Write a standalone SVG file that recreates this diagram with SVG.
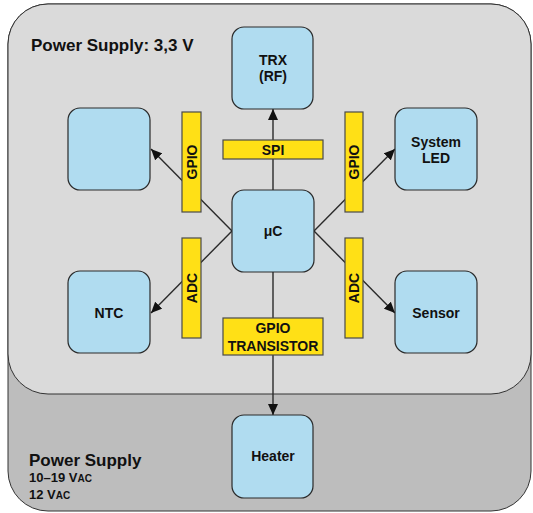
<svg xmlns="http://www.w3.org/2000/svg" width="533" height="513" viewBox="0 0 533 513">
<style>
.node{fill:#b0dcf0;stroke:#2a2a2a;stroke-width:1.2}
.bar{fill:#ffe016;stroke:#4a4a4a;stroke-width:1.2}
.t{font-family:"Liberation Sans",Arial,sans-serif;font-weight:bold;fill:#111;text-anchor:middle}
.n{font-size:14px}
.lbl{font-size:14px}
.title{font-family:"Liberation Sans",Arial,sans-serif;font-weight:bold;fill:#111;font-size:17px}
.sub{font-family:"Liberation Sans",Arial,sans-serif;font-weight:bold;fill:#111;font-size:13px}
.conn{stroke:#2a2a2a;stroke-width:1.4;fill:none}
</style>
<defs>
<marker id="ah" markerUnits="userSpaceOnUse" markerWidth="12" markerHeight="10" refX="11" refY="5" orient="auto">
<path d="M0,0 L11,5 L0,10 z" fill="#111"/>
</marker>
</defs>
<g id="background">
<rect x="8" y="4" width="523" height="507" rx="40" ry="40" fill="#bdbdbd" stroke="#333" stroke-width="1"/>
<rect x="8" y="4" width="523" height="390" rx="40" ry="40" fill="#dadada" stroke="#333" stroke-width="1"/>
<text class="title" x="31" y="51">Power Supply: 3,3 V</text>
<text class="title" x="29" y="466">Power Supply</text>
<text class="sub" x="29" y="482">10–19 V<tspan font-size="10">AC</tspan></text>
<text class="sub" x="29" y="499">12 V<tspan font-size="10">AC</tspan></text>
</g>
<g id="connectors">
<line class="conn" x1="273" y1="190" x2="273" y2="109" marker-end="url(#ah)"/>
<line class="conn" x1="232" y1="231" x2="151" y2="149" marker-end="url(#ah)"/>
<line class="conn" x1="232" y1="231" x2="151" y2="313" marker-end="url(#ah)"/>
<line class="conn" x1="314" y1="231" x2="395" y2="149" marker-end="url(#ah)"/>
<line class="conn" x1="314" y1="231" x2="395" y2="313" marker-end="url(#ah)"/>
<line class="conn" x1="273" y1="272" x2="273" y2="415" marker-end="url(#ah)"/>
</g>
<g id="trx"><rect class="node" x="232" y="27" width="81" height="82" rx="12"/><text class="t n" x="273" y="65">TRX</text><text class="t n" x="273" y="81">(RF)</text></g>
<g id="blank"><rect class="node" x="68" y="108" width="82" height="82" rx="12"/></g>
<g id="system-led"><rect class="node" x="395" y="108" width="82" height="82" rx="12"/><text class="t n" x="436" y="147">System</text><text class="t n" x="436" y="163">LED</text></g>
<g id="uc"><rect class="node" x="232" y="190" width="82" height="82" rx="12"/><text class="t n" x="273" y="236">μC</text></g>
<g id="ntc"><rect class="node" x="68" y="271" width="82" height="82" rx="12"/><text class="t n" x="109" y="318">NTC</text></g>
<g id="sensor"><rect class="node" x="395" y="271" width="82" height="82" rx="12"/><text class="t n" x="436" y="318">Sensor</text></g>
<g id="heater"><rect class="node" x="232" y="415" width="81" height="83" rx="12"/><text class="t n" x="273" y="461">Heater</text></g>
<g id="spi"><rect class="bar" x="223" y="140" width="100" height="19"/><text class="t lbl" x="273" y="155">SPI</text></g>
<g id="gpio-left"><rect class="bar" x="182" y="112" width="19" height="100"/><text class="t lbl" transform="translate(196.5,162) rotate(-90)">GPIO</text></g>
<g id="gpio-right"><rect class="bar" x="345" y="112" width="18" height="100"/><text class="t lbl" transform="translate(359,162) rotate(-90)">GPIO</text></g>
<g id="adc-left"><rect class="bar" x="182" y="238" width="19" height="100"/><text class="t lbl" transform="translate(196.5,288) rotate(-90)">ADC</text></g>
<g id="adc-right"><rect class="bar" x="345" y="238" width="18" height="100"/><text class="t lbl" transform="translate(359,288) rotate(-90)">ADC</text></g>
<g id="gpio-transistor"><rect class="bar" x="223" y="318" width="100" height="37"/><text class="t lbl" x="273" y="333">GPIO</text><text class="t lbl" x="273" y="351">TRANSISTOR</text></g>
</svg>
